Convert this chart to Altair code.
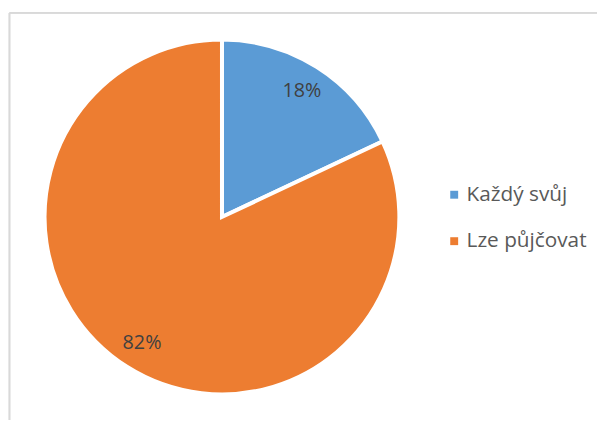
import altair as alt
import pandas as pd

categories = ["Každý svůj", "Lze půjčovat"]
values = [18, 82]
labels = ["18%", "82%"]
order = [0, 1]
colors = ["#5B9BD5", "#ED7D31"]

df = pd.DataFrame({"cat": categories, "val": values, "lab": labels, "ord": order})

CX, CY = 216.5, 209

base = alt.Chart(df).encode(
    theta=alt.Theta("val:Q", stack=True),
    order=alt.Order("ord:Q"),
)

arcs = base.mark_arc(stroke="white", strokeWidth=4, outerRadius=179.5).encode(
    x=alt.value(CX),
    y=alt.value(CY),
    color=alt.Color(
        "cat:N",
        scale=alt.Scale(domain=categories, range=colors),
        legend=alt.Legend(
            title=None,
            orient="none",
            legendX=441,
            legendY=176,
            symbolType="square",
            symbolSize=64,
            symbolStrokeWidth=0,
            labelFont="Open Sans",
            labelFontSize=21,
            labelColor="#595959",
            labelOffset=2,
            rowPadding=25,
        ),
    ),
)

texts = base.mark_text(
    radius=151, font="Open Sans", fontSize=20, color="#404040"
).encode(
    x=alt.value(CX),
    y=alt.value(CY),
    text="lab:N",
)

frame_left = alt.Chart(df).mark_rule(color="#d9d9d9", strokeWidth=1.7).encode(
    x=alt.value(1.5), y=alt.value(2.5), y2=alt.value(420)
)
frame_top = alt.Chart(df).mark_rule(color="#d9d9d9", strokeWidth=1.7).encode(
    x=alt.value(1.5), x2=alt.value(600), y=alt.value(2.5)
)

chart = (
    alt.layer(frame_left, frame_top, arcs, texts)
    .properties(width=596, height=412, autosize="none", padding=0, background="white")
    .configure_view(strokeWidth=0)
)

chart.save("out.html", embed_options={"renderer": "svg", "actions": False})
